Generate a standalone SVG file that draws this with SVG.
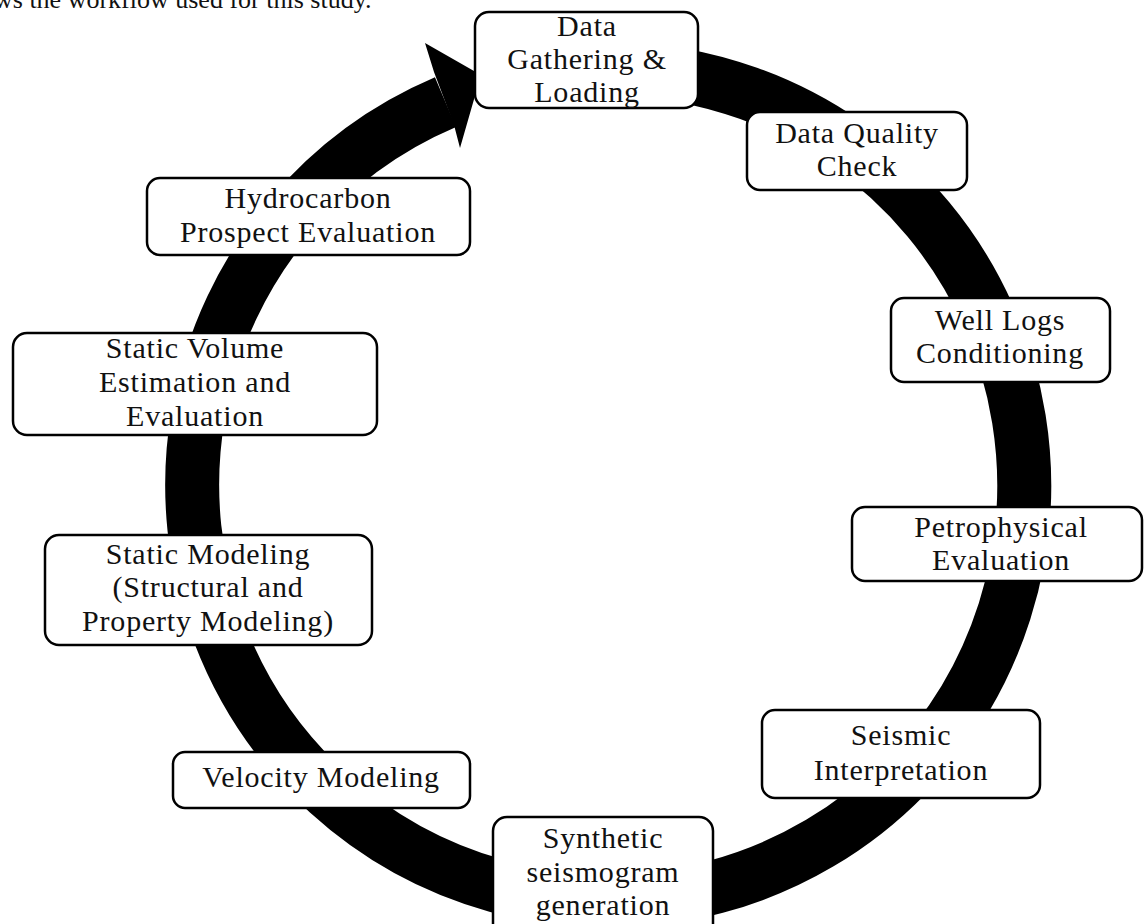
<svg xmlns="http://www.w3.org/2000/svg" width="1144" height="924" viewBox="0 0 1144 924">
<style>
  .box { fill: #ffffff; stroke: #000000; stroke-width: 2.5; }
  .lbl { font-family: "Liberation Serif", "Times New Roman", serif; font-size: 30px; letter-spacing: 0.8px; fill: #111111; text-anchor: middle; }
  .cap { font-family: "Liberation Serif", "Times New Roman", serif; font-size: 26px; fill: #111111; }
  .ring { fill: none; stroke: #000000; stroke-width: 54; }
</style>
<rect x="0" y="0" width="1144" height="924" fill="#ffffff"/>
<text class="cap" x="-6" y="8">ws the workflow used for this study.</text>

<g id="connectors">
  <path class="ring" d="M 557.3 72.1 A 416 416 0 1 1 445.5 102.1"/>
  <polygon points="434,72 425,43 481,75 460,148 454,125" fill="#000000"/>
</g>

<g id="node-data-gathering">
  <rect class="box" x="475" y="12" width="223" height="96" rx="14"/>
  <text class="lbl" x="587" y="36">Data</text>
  <text class="lbl" x="587" y="69">Gathering &amp;</text>
  <text class="lbl" x="587" y="102">Loading</text>
</g>

<g id="node-data-quality">
  <rect class="box" x="747" y="112" width="220" height="78" rx="13"/>
  <text class="lbl" x="857" y="143">Data Quality</text>
  <text class="lbl" x="857" y="176">Check</text>
</g>

<g id="node-well-logs">
  <rect class="box" x="891" y="298" width="219" height="84" rx="13"/>
  <text class="lbl" x="1000" y="330">Well Logs</text>
  <text class="lbl" x="1000" y="363">Conditioning</text>
</g>

<g id="node-petrophysical">
  <rect class="box" x="852" y="507" width="290" height="74" rx="13"/>
  <text class="lbl" x="1001" y="537">Petrophysical</text>
  <text class="lbl" x="1001" y="570">Evaluation</text>
</g>

<g id="node-seismic">
  <rect class="box" x="762" y="710" width="278" height="88" rx="13"/>
  <text class="lbl" x="901" y="745">Seismic</text>
  <text class="lbl" x="901" y="780">Interpretation</text>
</g>

<g id="node-synthetic">
  <rect class="box" x="493" y="817" width="220" height="125" rx="14"/>
  <text class="lbl" x="603" y="848">Synthetic</text>
  <text class="lbl" x="603" y="882">seismogram</text>
  <text class="lbl" x="603" y="915">generation</text>
</g>

<g id="node-velocity">
  <rect class="box" x="173" y="752" width="297" height="56" rx="12"/>
  <text class="lbl" x="321" y="787">Velocity Modeling</text>
</g>

<g id="node-static-modeling">
  <rect class="box" x="45" y="535" width="327" height="110" rx="14"/>
  <text class="lbl" x="208" y="564">Static Modeling</text>
  <text class="lbl" x="208" y="597">(Structural and</text>
  <text class="lbl" x="208" y="631">Property Modeling)</text>
</g>

<g id="node-static-volume">
  <rect class="box" x="13" y="333" width="364" height="102" rx="14"/>
  <text class="lbl" x="195" y="358">Static Volume</text>
  <text class="lbl" x="195" y="392">Estimation and</text>
  <text class="lbl" x="195" y="426">Evaluation</text>
</g>

<g id="node-hydrocarbon">
  <rect class="box" x="147" y="178" width="323" height="77" rx="13"/>
  <text class="lbl" x="308" y="208">Hydrocarbon</text>
  <text class="lbl" x="308" y="242">Prospect Evaluation</text>
</g>
</svg>
